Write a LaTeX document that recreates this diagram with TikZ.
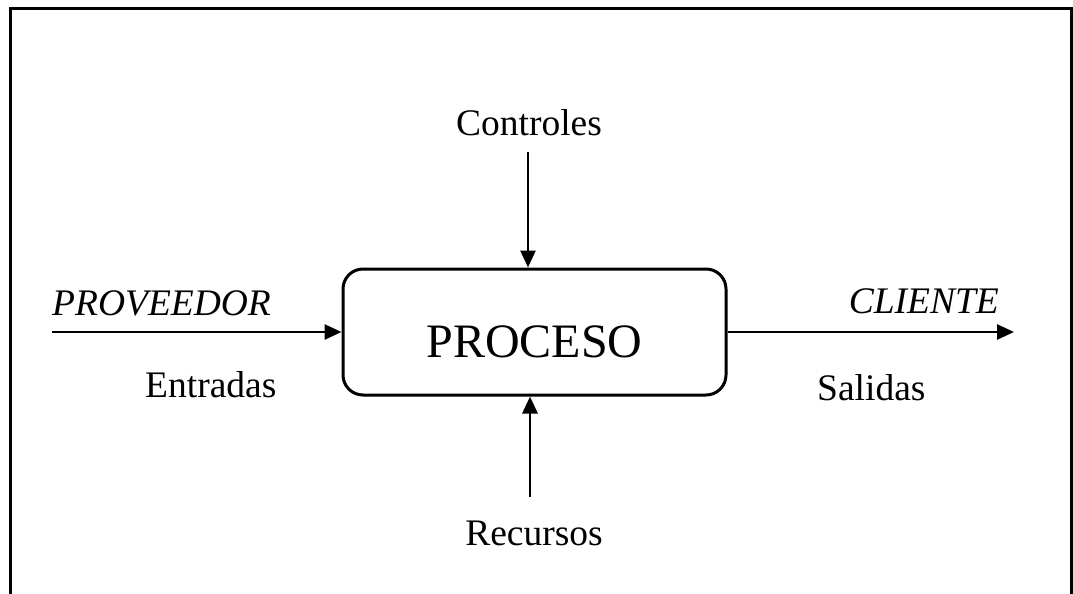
\documentclass[tikz,border=0pt]{standalone}
\usepackage{fontspec}
\setmainfont{Liberation Serif}
\usetikzlibrary{arrows.meta}
\begin{document}
\begin{tikzpicture}[x=1pt,y=-1pt,
  lbl/.style={font=\fontsize{37.5}{40}\selectfont, inner sep=0pt},
  ilbl/.style={lbl, font=\fontsize{37.5}{40}\selectfont\itshape},
  procbox/.style={draw, line width=3pt, rounded corners=20pt, minimum width=383pt, minimum height=126pt, inner sep=0pt},
  flow/.style={line width=2.8pt, -{Triangle[length=17pt,width=15pt]}},
  frame/.style={line width=3pt}]
\useasboundingbox (0,0) rectangle (1073,594);
% frame
\draw[frame] (10,600) -- (10,9) -- (1071,9) -- (1071,600);
% process box
\node[procbox] (box) at (534.5,332) {};
\node[inner sep=0pt, anchor=base, font=\fontsize{48}{52}\selectfont] (proc) at (534.5,357) {PROCESO};
% labels
\node[ilbl, anchor=base west] (prov) at (52,315) {PROVEEDOR};
\node[lbl, anchor=base west] (ent) at (145,397) {Entradas};
\node[ilbl, anchor=base east] (cli) at (999,313) {CLIENTE};
\node[lbl, anchor=base west] (sal) at (817,400) {Salidas};
\node[lbl, anchor=base] (ctrl) at (529,135) {Controles};
\node[lbl, anchor=base] (rec) at (534,545) {Recursos};
% connector ends
\coordinate (inS) at (52,332);
\coordinate (outE) at (1014,332);
\coordinate (topS) at (528,152);
\coordinate (botS) at (530,497);
% arrows
\draw[flow] (inS) -- (inS -| box.west);
\draw[flow] (box.east) -- (outE);
\draw[flow] (topS) -- (topS |- box.north);
\draw[flow] (botS) -- (botS |- box.south);
\end{tikzpicture}
\end{document}
